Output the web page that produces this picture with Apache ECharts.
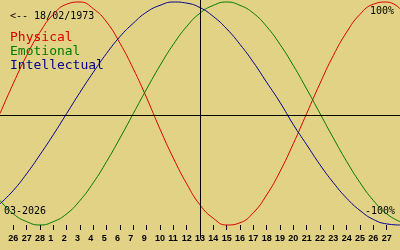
<!DOCTYPE html>
<html>
<head>
<meta charset="utf-8">
<script src="https://cdn.jsdelivr.net/npm/echarts@6/dist/echarts.min.js"></script>
<style>
html,body{margin:0;padding:0;background:#e1d286;}
#chart{width:400px;height:250px;}
</style>
</head>
<body>
<div id="chart"></div>
<script>
// day index 0..30 (one per day across the window); today = index 15
const dayLabels = ['26','27','28','1','2','3','4','5','6','7','9','10','11','12','13','14','15','16','17','18','19','20','21','22','23','24','25','26','27'];
const tickIndex = [1,2,3,4,5,6,7,8,9,10,11,12,13,14,15,16,17,18,19,20,21,22,23,24,25,26,27,28,29];
const todayIndex = 15;
const physical = [0.00,0.27,0.52,0.73,0.89,0.98,1.00,0.94,0.82,0.63,0.40,0.14,-0.14,-0.40,-0.63,-0.82,-0.94,-1.00,-0.98,-0.89,-0.73,-0.52,-0.27,0.00,0.27,0.52,0.73,0.89,0.98,1.00,0.94];
const emotional = [-0.78,-0.90,-0.97,-1.00,-0.97,-0.90,-0.78,-0.62,-0.43,-0.22,0.00,0.22,0.43,0.62,0.78,0.90,0.97,1.00,0.97,0.90,0.78,0.62,0.43,0.22,0.00,-0.22,-0.43,-0.62,-0.78,-0.90,-0.97];
const intellectual = [-0.81,-0.69,-0.54,-0.37,-0.19,0.00,0.19,0.37,0.54,0.69,0.81,0.91,0.97,1.00,0.99,0.95,0.87,0.76,0.62,0.46,0.28,0.10,-0.10,-0.28,-0.46,-0.62,-0.76,-0.87,-0.95,-0.99,-1.00];
const seriesNames = ['Physical','Emotional','Intellectual'];
const seriesColors = ['#dc0000','#007a00','#00008c'];
const birthText = '<-- 18/02/1973';
const monthText = '03-2026';
const topText = '100%';
const bottomText = '-100%';

const Y_MAX = 1.01794, Y_MIN = -1.12556;
const toPairs = arr => arr.map((v, i) => [i, v]);
const mono = '"DejaVu Sans Mono", monospace';

const chart = echarts.init(document.getElementById('chart'), null, {renderer: 'canvas'});
const labelMap = {};
tickIndex.forEach((t, k) => { labelMap[t] = dayLabels[k]; });

const series = [physical, emotional, intellectual].map((arr, s) => ({
  name: seriesNames[s],
  type: 'line',
  data: toPairs(arr),
  smooth: 0.5,
  symbol: 'none',
  clip: false,
  animation: false,
  lineStyle: {color: seriesColors[s], width: 1},
  itemStyle: {color: seriesColors[s]}
}));

series[0].markLine = {
  silent: true,
  symbol: 'none',
  animation: false,
  label: {show: false},
  lineStyle: {color: '#000', width: 1, type: 'solid'},
  data: [
    {yAxis: -0.0179},
    {xAxis: todayIndex + 0.0375}
  ]
};

chart.setOption({
  backgroundColor: '#e1d286',
  animation: false,
  grid: {left: 0, right: 0, top: 0, bottom: 11, containLabel: false},
  xAxis: {
    type: 'value', min: 0, max: 30, interval: 1,
    offset: -14,
    axisLine: {show: false, onZero: false},
    splitLine: {show: false},
    axisTick: {show: true, length: 5, lineStyle: {color: '#000', width: 1}, customValues: tickIndex},
    axisLabel: {
      show: true, margin: 9, customValues: tickIndex,
      formatter: v => '{a|' + (labelMap[Math.round(v)] || '') + '}',
      rich: {a: {width: 10, align: 'left', fontSize: 9, fontWeight: 'bold', fontFamily: '"Liberation Sans", Arial, sans-serif', color: '#000'}}
    }
  },
  yAxis: {
    type: 'value', min: Y_MIN, max: Y_MAX,
    show: false
  },
  legend: {
    orient: 'vertical', left: 5, top: 30, padding: 0,
    itemWidth: 0, itemHeight: 15, itemGap: 0, icon: 'none',
    selectedMode: false,
    textStyle: {fontFamily: mono, fontSize: 13},
    data: seriesNames.map((n, i) => ({name: n, textStyle: {color: seriesColors[i]}}))
  },
  graphic: [
    {type: 'text', left: 10, top: 11, style: {text: birthText, font: '10px ' + mono, fill: '#000'}},
    {type: 'text', right: 6, top: 6, style: {text: topText, font: '10px ' + mono, fill: '#000'}},
    {type: 'text', right: 5, top: 206, style: {text: bottomText, font: '10px ' + mono, fill: '#000'}},
    {type: 'text', left: 4, top: 206, style: {text: monthText, font: '10px ' + mono, fill: '#000'}}
  ],
  series: series
});
</script>
</body>
</html>
